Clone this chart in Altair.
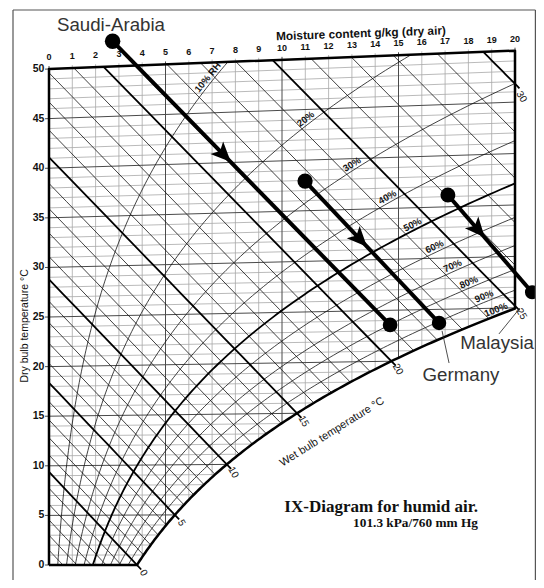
import numpy as np
import pandas as pd
import altair as alt

# ---------------- values ----------------
moisture_ticks = list(range(0, 21))            # g/kg (top axis)
temp_ticks = list(range(0, 51, 5))             # °C (left axis labels)
isotherms = list(range(0, 51))                 # dry-bulb grid every 1 °C
rh_levels = [10, 20, 30, 40, 50, 60, 70, 80, 90, 100]
rh_label_text = ["10% RH", "20%", "30%", "40%", "50%", "60%", "70%", "80%", "90%", "100%"]
rh_label_x = [7.0, 11.16, 13.13, 14.64, 15.71, 16.65, 17.42, 18.11, 18.76, 19.27]
wet_bulb_levels = list(range(-6, 33))
wet_bulb_labels = [0, 5, 10, 15, 20, 25, 30]

countries = ["Saudi-Arabia", "Germany", "Malaysia"]
start_x = [2.73, 10.99, 17.12]
start_y = [52.8, 38.7, 37.3]
end_x = [14.64, 16.74, 20.73]
end_y = [24.2, 24.4, 27.5]
head_x = [7.45, 13.3, 18.37]          # arrowheads sit on the process lines
name_x = [2.66, 17.68, 19.23]
name_y = [54.4, 19.15, 22.38]
leader_country = ["Germany", "Malaysia"]
leader_x1 = [16.87, 19.31]
leader_y1 = [23.59, 23.29]
leader_x2 = [17.17, 20.21]
leader_y2 = [20.36, 25.9]

x_title = "Moisture content g/kg (dry air)"
y_title = "Dry bulb temperature °C"
wb_title = "Wet bulb temperature °C"
title_lines = ["IX-Diagram for humid air.", "101.3 kPa/760 mm Hg"]
title_x = [18.41, 18.41]
title_y = [5.34, 3.83]

# ---------------- layout ----------------
W_PX, H_PX = 528, 572
X0_PX, Y0_PX = 41.0, 557.0      # plot-area pixel of (x = 0 g/kg, t = 0 °C)
PX_X, PX_Y = 23.3, 9.92         # pixels per g/kg, per °C
XMIN = -X0_PX / PX_X
XMAX = XMIN + W_PX / PX_X
YMAX = Y0_PX / PX_Y
YMIN = YMAX - H_PX / PX_Y
SANS = "Liberation Sans"
SERIF = "Liberation Serif"

# ---------------- psychrometrics (Mollier skew coordinates) ----------------
P = 101.325


def psat(t):
    t = np.asarray(t, dtype=float)
    return 0.61121 * np.exp((18.678 - t / 234.5) * (t / (257.14 + t)))


def xsat(t):
    ps = psat(t)
    return 622.0 * ps / (P - ps)


def skew(t, x):
    return t * (1.0 + 1.86 * x / 1006.0)


def t_from_p(p):
    lo, hi = -40.0, 120.0
    for _ in range(70):
        mid = 0.5 * (lo + hi)
        if psat(mid) < p:
            lo = mid
        else:
            hi = mid
    return 0.5 * (lo + hi)


def dew(x):
    return t_from_p(x * P / (622.0 + x))


rows = []


def add(kind, pts):
    gid = f"{kind}{len(rows)}"
    for i, (x, y) in enumerate(pts):
        rows.append((float(x), float(y), gid, i, kind))


T_SAT20 = dew(20.0)

# isotherms
for t in isotherms:
    xe = min(20.0, float(xsat(t)))
    x0 = -0.17 if t % 5 == 0 else 0.0
    add("major" if t % 5 == 0 else "minor", [(x0, skew(t, x0)), (xe, skew(t, xe))])

# constant moisture lines
for x in moisture_ticks:
    tb = 0.0 if x <= xsat(0.0) else dew(x)
    add("major" if x % 5 == 0 else "minor",
        [(x, skew(tb, x)), (x, skew(50.0, x) + 0.3)])

# relative humidity curves
for rh in rh_levels:
    if rh == 100:
        continue
    f = rh / 100.0
    t_end = min(50.0, t_from_p(20.0 * P / 642.0 / f))
    ts = np.linspace(0.0, t_end, 140)
    ps = f * psat(ts)
    xs = 622.0 * ps / (P - ps)
    add("thick" if rh == 50 else "thin", list(zip(xs, skew(ts, xs))))

# wet-bulb lines
wb_ends = {}
for tw in wet_bulb_levels:
    ws = float(xsat(tw)) / 1000.0
    A = (2501.0 - 2.326 * tw) * ws
    B = 2501.0 - 4.186 * tw

    def t_at(w):
        return (A + 1.006 * tw - w * B) / (1.86 * w + 1.006)

    lo = max(tw, 0.0, t_at(0.020))
    hi = min(50.0, t_at(0.0))
    if hi <= lo:
        continue
    labelled = tw in wet_bulb_labels
    ts = np.linspace(lo - (0.45 if labelled else 0.0), hi, 14)
    w = (A - 1.006 * (ts - tw)) / (B + 1.86 * ts)
    xs = 1000.0 * w
    add("thick" if labelled else "thin", list(zip(xs, skew(ts, xs))))
    if labelled:
        wl = (A - 1.006 * (lo - tw)) / (B + 1.86 * lo) * 1000.0
        wb_ends[tw] = (wl, skew(lo, wl))

# boundary of the diagram
ts_sat = np.linspace(T_SAT20, 0.0, 120)
xs_sat = xsat(ts_sat)
boundary = [(0.0, 0.0), (0.0, 50.0), (20.0, skew(50.0, 20.0)), (20.0, skew(T_SAT20, 20.0))]
boundary += list(zip(xs_sat, skew(ts_sat, xs_sat)))
boundary += [(0.0, 0.0)]
add("boundary", boundary)

grid = pd.DataFrame(rows, columns=["x", "y", "id", "ord", "kind"])

xs_ = alt.Scale(domain=[XMIN, XMAX], nice=False, zero=False)
ys_ = alt.Scale(domain=[YMIN, YMAX], nice=False, zero=False)
XE = alt.X("x:Q", scale=xs_, axis=None)
YE = alt.Y("y:Q", scale=ys_, axis=None)


def line_layer(kind, color, width):
    return alt.Chart(grid[grid.kind == kind]).mark_line(
        color=color, strokeWidth=width, strokeJoin="round", strokeCap="butt"
    ).encode(XE, YE, detail="id:N", order="ord:Q")


layers = [
    line_layer("minor", "#a8a8a8", 0.8),
    line_layer("major", "#4a4a4a", 1.0),
    line_layer("thin", "#111111", 0.8),
    line_layer("thick", "#000000", 1.8),
    line_layer("boundary", "#000000", 2.5),
]

# ---------------- labels on the diagram ----------------
top_lab = pd.DataFrame({"x": moisture_ticks,
                        "y": [skew(50.0, x) + 0.9 for x in moisture_ticks],
                        "text": [str(v) for v in moisture_ticks]})
layers.append(alt.Chart(top_lab).mark_text(font=SANS, fontSize=9, fontWeight="bold", color="#111",
                                          baseline="alphabetic").encode(XE, YE, text="text:N"))

left_lab = pd.DataFrame({"x": [-0.2] * len(temp_ticks), "y": temp_ticks,
                         "text": [str(v) for v in temp_ticks]})
layers.append(alt.Chart(left_lab).mark_text(font=SANS, fontSize=10.5, fontWeight="bold", color="#111",
                                           align="right", baseline="middle").encode(XE, YE, text="text:N"))

# RH labels: sit on their curve, rotated along it
rh_rows = []
for rh, txt, xl in zip(rh_levels, rh_label_text, rh_label_x):
    f = rh / 100.0
    pv = xl * P / (622.0 + xl)
    t = t_from_p(pv / f)
    yl = skew(t, xl)
    t2 = t + 0.3
    ps2 = f * float(psat(t2))
    x2 = 622.0 * ps2 / (P - ps2)
    y2 = skew(t2, x2)
    ang = -np.degrees(np.arctan2((y2 - yl) * PX_Y, (x2 - xl) * PX_X))
    rh_rows.append((xl, yl, txt, ang % 360))
rh_df = pd.DataFrame(rh_rows, columns=["x", "y", "text", "angle"])
layers.append(alt.Chart(rh_df).mark_text(font=SANS, fontSize=9.5, fontWeight="bold", color="#111",
                                        baseline="bottom", dy=-0.5, opacity=0.99)
              .encode(XE, YE, text="text:N", angle=alt.Angle("angle:Q", scale=None)))

# wet bulb labels beyond the end of each labelled line
wb_df = pd.DataFrame({
    "x": [wb_ends[t][0] + 6.5 / PX_X for t in wet_bulb_labels],
    "y": [wb_ends[t][1] - (13.0 if t == 30 else 8.0) / PX_Y for t in wet_bulb_labels],
    "text": [str(t) for t in wet_bulb_labels]})
layers.append(alt.Chart(wb_df).mark_text(font=SANS, fontSize=10, color="#111", angle=60,
                                        baseline="middle", opacity=0.99).encode(XE, YE, text="text:N"))

titles = pd.DataFrame({"x": [13.39, -1.03, 12.15], "y": [53.6, 24.1, 13.4],
                       "text": [x_title, y_title, wb_title], "angle": [358.0, 270.0, 328.0],
                       "w": ["bold", "normal", "wb"]})
layers.append(alt.Chart(titles[titles.w == "bold"]).mark_text(font=SANS, fontSize=11.8, fontWeight="bold",
                                                               color="#111", baseline="middle")
              .encode(XE, YE, text="text:N", angle=alt.Angle("angle:Q", scale=None)))
layers.append(alt.Chart(titles[titles.w == "normal"]).mark_text(font=SANS, fontSize=10.5, color="#111",
                                                                 baseline="middle")
              .encode(XE, YE, text="text:N", angle=alt.Angle("angle:Q", scale=None)))
layers.append(alt.Chart(titles[titles.w == "wb"]).mark_text(font=SANS, fontSize=11, color="#111",
                                                             baseline="middle", opacity=0.99)
              .encode(XE, YE, text="text:N", angle=alt.Angle("angle:Q", scale=None)))

tt = pd.DataFrame({"x": title_x, "y": title_y, "text": title_lines, "line": [0, 1]})
layers.append(alt.Chart(tt[tt.line == 0]).mark_text(font=SERIF, fontSize=17, fontWeight="bold", color="#111",
                                                   align="right", baseline="alphabetic")
              .encode(XE, YE, text="text:N"))
layers.append(alt.Chart(tt[tt.line == 1]).mark_text(font=SERIF, fontSize=13.3, fontWeight="bold", color="#111",
                                                   align="right", baseline="alphabetic")
              .encode(XE, YE, text="text:N"))

# ---------------- processes (arrows) ----------------
proc_rows = []
for c, x1, y1, x2, y2 in zip(countries, start_x, start_y, end_x, end_y):
    proc_rows += [(x1, y1, c, 0), (x2, y2, c, 1)]
proc = pd.DataFrame(proc_rows, columns=["x", "y", "id", "ord"])
layers.append(alt.Chart(proc).mark_line(color="#000", strokeWidth=4).encode(XE, YE, detail="id:N", order="ord:Q"))

head_rows = []
for hx, x1, y1, x2, y2 in zip(head_x, start_x, start_y, end_x, end_y):
    frac = (hx - x1) / (x2 - x1)
    hy = y1 + frac * (y2 - y1)
    ang = np.degrees(np.arctan2((x2 - x1) * PX_X, (y2 - y1) * PX_Y)) % 360
    head_rows.append((hx, hy, ang))
heads = pd.DataFrame(head_rows, columns=["x", "y", "angle"])
layers.append(alt.Chart(heads).mark_point(shape="M0,-1L0.75,0.7L0,0.3L-0.75,0.7Z", filled=True, opacity=1,
                                          color="#000", size=560, strokeWidth=0)
              .encode(XE, YE, angle=alt.Angle("angle:Q", scale=None)))

dot_names = [c + " start" for c in countries] + [c + " end" for c in countries]
dots = pd.DataFrame({"x": start_x + end_x, "y": start_y + end_y, "dot": dot_names})
layers.append(alt.Chart(dots).mark_circle(color="#000", opacity=1)
              .encode(XE, YE, size=alt.Size("dot:N", legend=None,
                                            scale=alt.Scale(domain=dot_names,
                                                            range=[240, 200, 180, 260, 400, 190]))))

leaders = pd.DataFrame({"x": leader_x1 + leader_x2, "y": leader_y1 + leader_y2,
                        "id": leader_country * 2, "ord": [0, 0, 1, 1]})
layers.append(alt.Chart(leaders).mark_line(color="#222", strokeWidth=0.8)
              .encode(XE, YE, detail="id:N", order="ord:Q"))

names = pd.DataFrame({"x": name_x, "y": name_y, "text": countries})
layers.append(alt.Chart(names).mark_text(font=SANS, fontSize=18.7, color="#333", baseline="middle")
              .encode(XE, YE, text="text:N"))

# outer frame
frame = alt.Chart(pd.DataFrame({"k": [0]}))
layers.append(frame.mark_rule(color="#555", strokeWidth=1.2).encode(
    x=alt.value(5), y=alt.value(2), y2=alt.value(H_PX)))
layers.append(frame.mark_rule(color="#555", strokeWidth=1.2).encode(
    x=alt.value(5), x2=alt.value(W_PX - 0.6), y=alt.value(2)))
layers.append(frame.mark_rule(color="#555", strokeWidth=1.2).encode(
    x=alt.value(W_PX - 0.6), y=alt.value(2), y2=alt.value(H_PX)))

chart = alt.layer(*layers).properties(
    width=W_PX, height=H_PX, padding=0, autosize=alt.AutoSizeParams(type="none")
).configure_view(stroke=None)

chart.save("out.html", embed_options={"renderer": "svg", "actions": False})
